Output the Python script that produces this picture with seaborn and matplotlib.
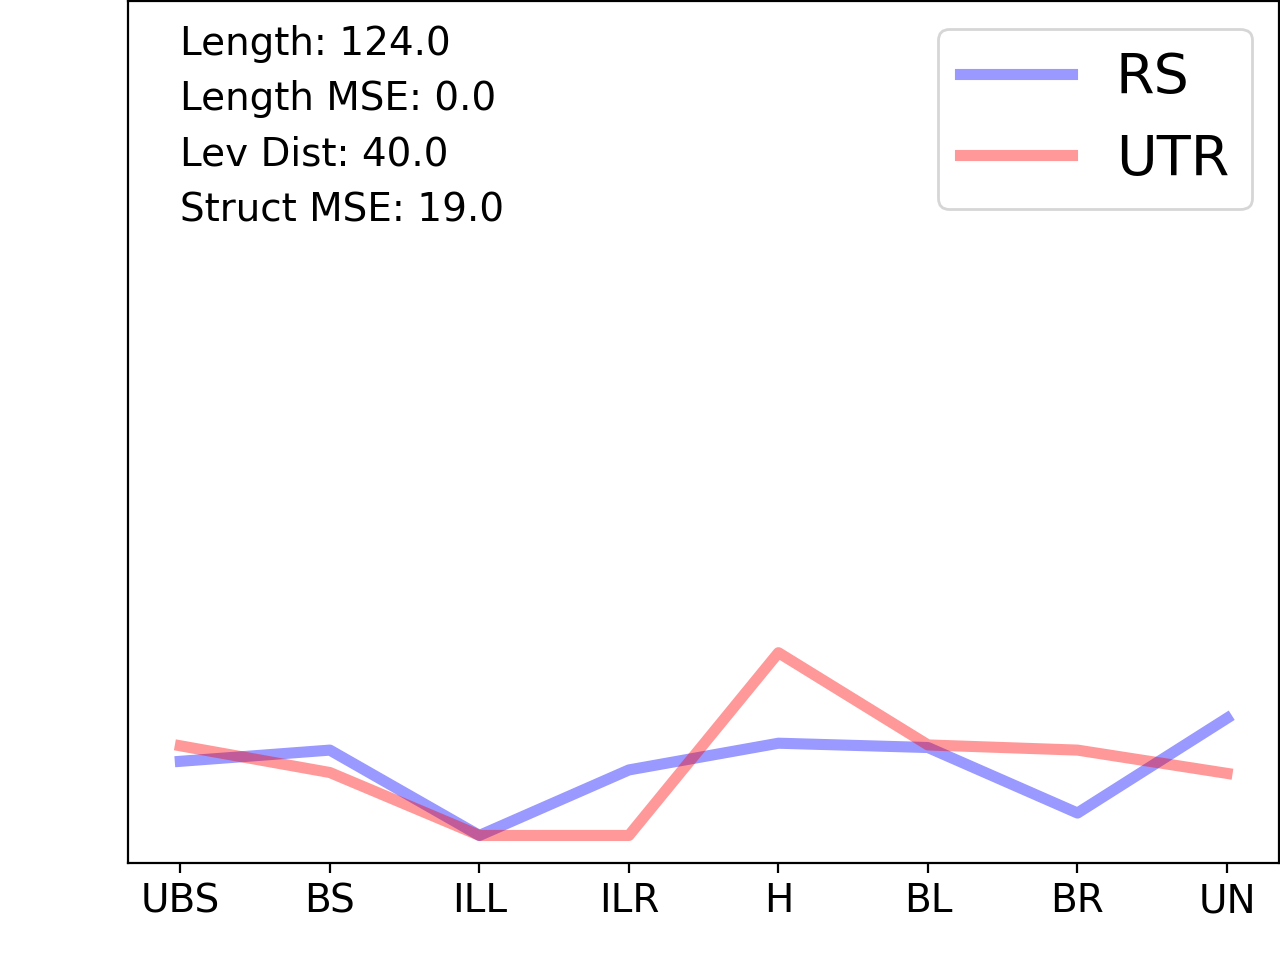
import pandas as pd
import seaborn as sns
import matplotlib.pyplot as plt

# Region labels along the x axis
regions = ['UBS', 'BS', 'ILL', 'ILR', 'H', 'BL', 'BR', 'UN']

# Values (y axis has no ticks, scaled 0-1)
rs_values = [0.118, 0.131, 0.032, 0.108, 0.139, 0.134, 0.058, 0.168]
utr_values = [0.136, 0.105, 0.032, 0.032, 0.244, 0.137, 0.131, 0.104]

# Summary stats printed in the corner
stats_lines = ['Length: 124.0', 'Length MSE: 0.0', 'Lev Dist: 40.0', 'Struct MSE: 19.0']

df = pd.DataFrame({'region': regions, 'RS': rs_values, 'UTR': utr_values})

fig, ax = plt.subplots(figsize=(6.4, 4.8), dpi=200)

sns.lineplot(data=df, x='region', y='RS', color='blue', alpha=0.4,
             linewidth=4, label='RS', sort=False, ax=ax)
sns.lineplot(data=df, x='region', y='UTR', color='red', alpha=0.4,
             linewidth=4, label='UTR', sort=False, ax=ax)

ax.set_ylim(0, 1)
ax.set_yticks([])
ax.set_xlabel('')
ax.set_ylabel('')
ax.tick_params(axis='x', labelsize=14)

# Stats block aligned with the first category
ax.text(0, 0.972, '\n'.join(stats_lines), transform=ax.get_xaxis_transform(),
        fontsize=14, va='top', ha='left', linespacing=1.58)

ax.legend(fontsize=20, loc='upper right')

fig.subplots_adjust(left=0.1, right=0.9995, bottom=0.101, top=0.999)
plt.savefig('out.png', dpi=200)
